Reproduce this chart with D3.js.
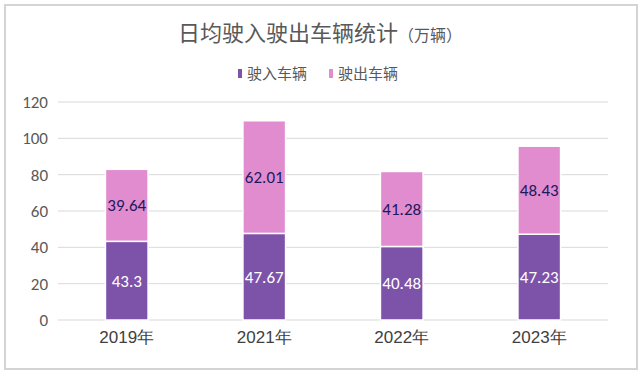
<!DOCTYPE html>
<html><head><meta charset="utf-8">
<script src="https://cdn.jsdelivr.net/npm/d3@7"></script>
<style>body{margin:0;background:#fff;}svg{display:block;font-family:"Microsoft YaHei","Noto Sans CJK SC",sans-serif;}</style>
</head><body>
<svg id="c" width="643" height="390"></svg>
<script>
const categories = ["2019年","2021年","2022年","2023年"];
const inbound = [43.3, 47.67, 40.48, 47.23];
const outbound = [39.64, 62.01, 41.28, 48.43];
const seriesNames = ["驶入车辆","驶出车辆"];
const yTicks = [0,20,40,60,80,100,120];
const colors = ["#7d52a9","#e08ccf"];
const labelColors = ["#ffffff","#1c1a5c"];

const svg = d3.select("#c");
svg.append("rect").attr("x",5).attr("y",5).attr("width",632).attr("height",364)
  .attr("fill","#fff").attr("stroke","#d4d4d4").attr("stroke-width",2);

const m = {l:58, r:608, t:102, b:320};
const x = d3.scaleBand().domain(categories).range([m.l,m.r]).paddingInner(0.69).paddingOuter(0.345);
const y = d3.scaleLinear().domain([0,120]).range([m.b,m.t]);

svg.append("g").selectAll("line").data(yTicks).join("line")
  .attr("x1",m.l).attr("x2",m.r).attr("y1",d=>y(d)).attr("y2",d=>y(d))
  .attr("stroke","#d9d9d9").attr("stroke-width",1);

const yAxis = svg.append("g").attr("transform",`translate(${m.l},0)`)
  .call(d3.axisLeft(y).tickValues(yTicks).tickSize(0).tickPadding(10));
yAxis.select(".domain").remove();
yAxis.selectAll("text").attr("font-size",17).attr("fill","#595959").attr("font-family","Calibri,Carlito,'Liberation Sans',sans-serif");

const xAxis = svg.append("g").attr("transform",`translate(0,${m.b})`)
  .call(d3.axisBottom(x).tickSize(0).tickPadding(11));
xAxis.select(".domain").remove();
xAxis.selectAll("text").attr("font-size",17).attr("fill","#404040");

const data = categories.map((c,i)=>({cat:c, inbound:inbound[i], outbound:outbound[i]}));
const stack = d3.stack().keys(["inbound","outbound"])(data);

stack.forEach((s,si)=>{
  const g = svg.append("g");
  g.selectAll("rect").data(s).join("rect")
    .attr("x",d=>x(d.data.cat)).attr("width",x.bandwidth())
    .attr("y",d=>y(d[1])).attr("height",d=>y(d[0])-y(d[1]))
    .attr("fill",colors[si]).attr("stroke","#fff").attr("stroke-width",1.5);
  g.selectAll("text").data(s).join("text")
    .attr("x",d=>x(d.data.cat)+x.bandwidth()/2)
    .attr("y",d=>(y(d[0])+y(d[1]))/2)
    .attr("dy","0.35em").attr("text-anchor","middle")
    .attr("font-size",17).attr("fill",labelColors[si])
    .attr("font-family","Calibri,Carlito,'Liberation Sans',sans-serif")
    .text(d=>(+(d[1]-d[0]).toFixed(2)).toString());
});

const title = svg.append("text").attr("x",320).attr("y",41).attr("text-anchor","middle")
  .attr("fill","#595959");
title.append("tspan").attr("font-size",22).text("日均驶入驶出车辆统计");
title.append("tspan").attr("font-size",16).text("（万辆）");

const legX = [238, 329];
seriesNames.forEach((n,i)=>{
  svg.append("rect").attr("x",legX[i]).attr("y",69).attr("width",4).attr("height",9).attr("fill",colors[i]);
  svg.append("text").attr("x",legX[i]+9).attr("y",79).attr("font-size",15).attr("fill","#595959").text(n);
});
</script>
</body></html>
